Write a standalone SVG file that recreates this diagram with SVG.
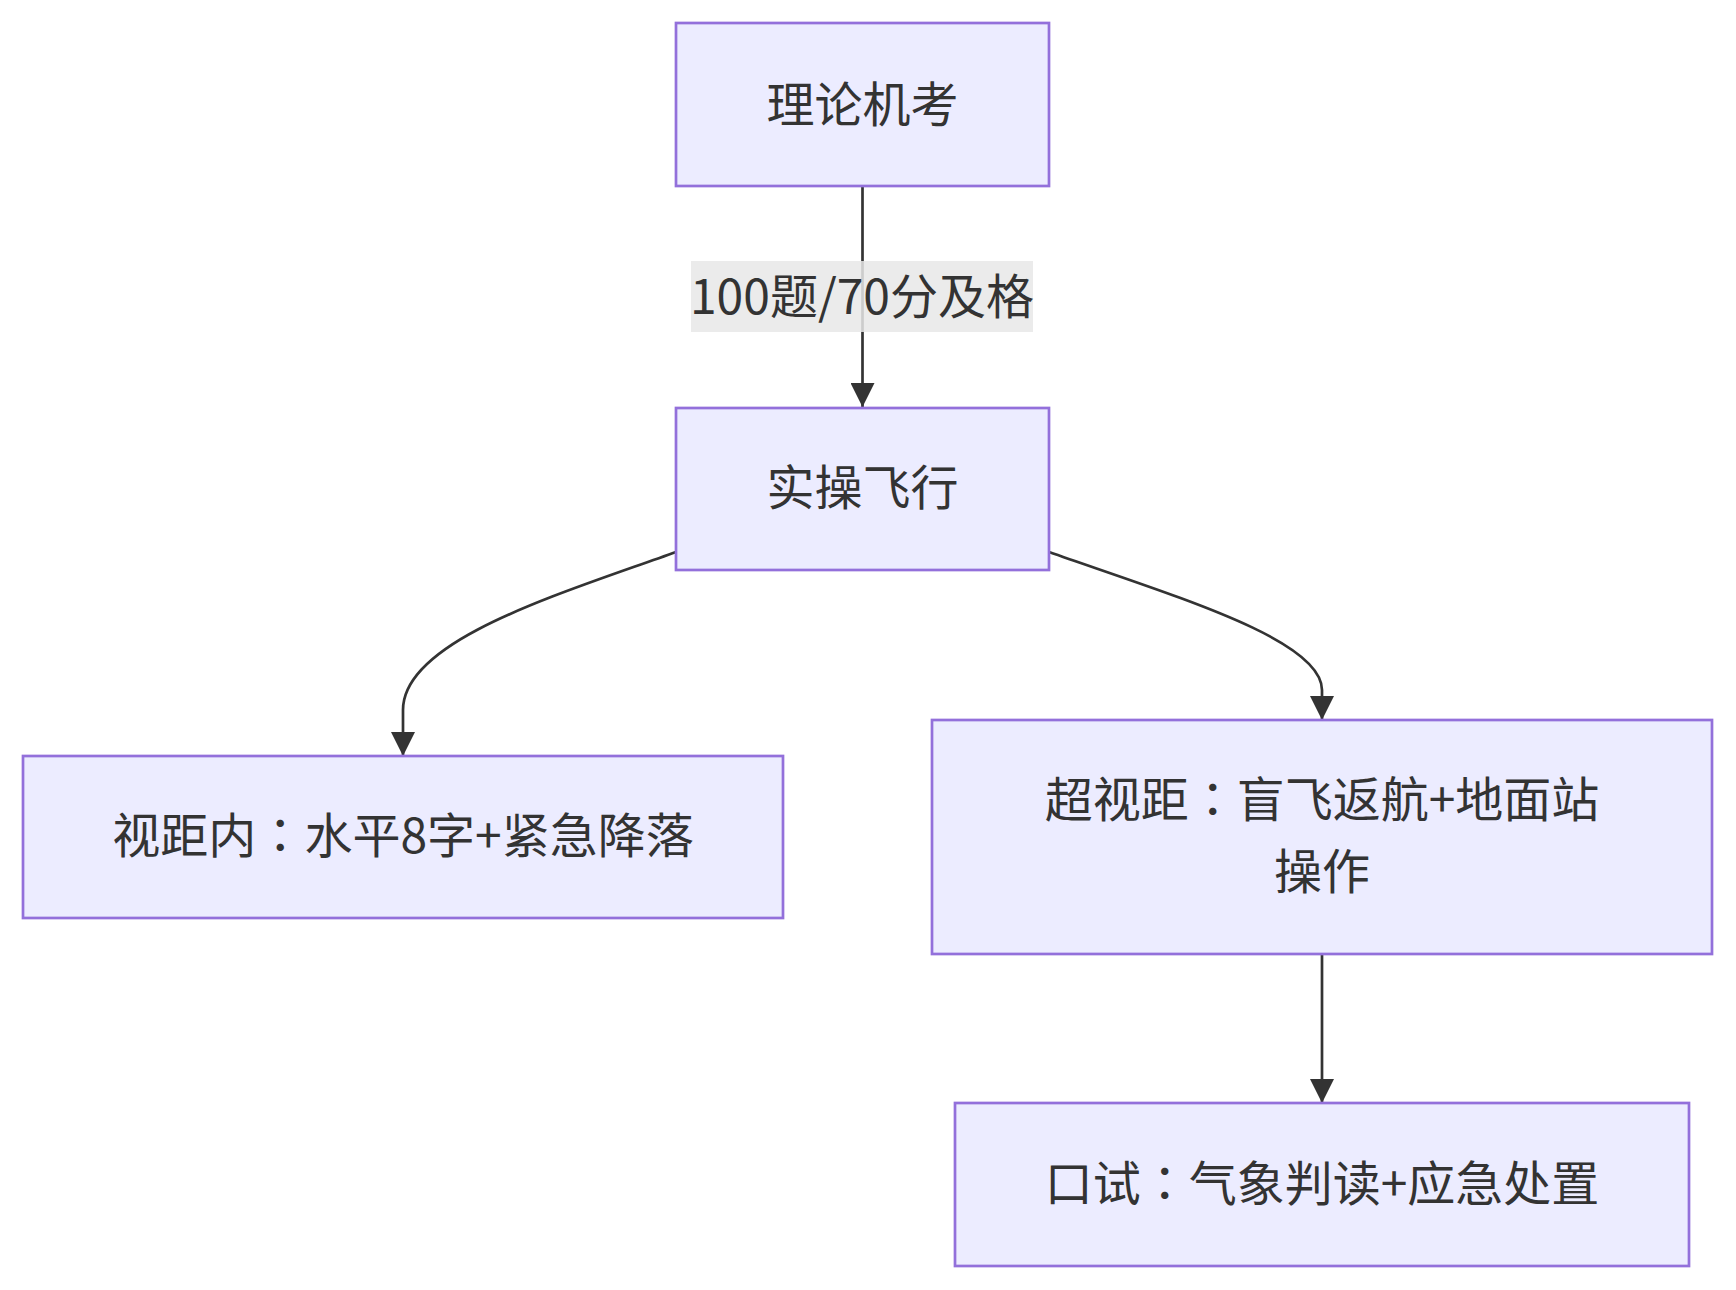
<svg xmlns="http://www.w3.org/2000/svg" width="1736" height="1290" viewBox="0 0 1736 1290">
<defs>
<style>
.node rect{fill:#ECECFF;stroke:#9370DB;stroke-width:2.7;}
.lbl{font-family:"Noto Sans CJK SC","Liberation Sans",sans-serif;font-size:48px;fill:#333;text-anchor:middle;dominant-baseline:central;}
.colon{font-family:"Noto Sans CJK TC","Noto Sans CJK SC",sans-serif;}
.edge{fill:none;stroke:#333;stroke-width:2.7;}
.elbg{fill:#e8e8e8;opacity:0.85;}
</style>
<marker id="arrow" viewBox="0 0 24 24" refX="24" refY="12" markerUnits="userSpaceOnUse" markerWidth="24" markerHeight="24" orient="auto">
<path d="M0,0 L24,12 L0,24 z" fill="#333"/>
</marker>
</defs>
<rect width="1736" height="1290" fill="#fff"/>
<g id="edges">
<path class="edge" d="M862.5,186 L862.5,407" marker-end="url(#arrow)"/>
<path class="edge" d="M676,552 C560,594 403,640 403,710 L403,756" marker-end="url(#arrow)"/>
<path class="edge" d="M1049,552 C1180,598 1322,640 1322,690 L1322,720" marker-end="url(#arrow)"/>
<path class="edge" d="M1322,954 L1322,1103" marker-end="url(#arrow)"/>
</g>
<g id="edge-label">
<rect class="elbg" x="691" y="261" width="342" height="71"/>
<text class="lbl" x="862" y="293">100题/70分及格</text>
</g>
<g id="n1" class="node">
<rect x="676" y="23" width="373" height="163"/>
<text class="lbl" x="862.5" y="101">理论机考</text>
</g>
<g id="n2" class="node">
<rect x="676" y="408" width="373" height="162"/>
<text class="lbl" x="862.5" y="484">实操飞行</text>
</g>
<g id="n3" class="node">
<rect x="23" y="756" width="760" height="162"/>
<text class="lbl" x="403" y="832">视距内<tspan class="colon">：</tspan>水平8字+紧急降落</text>
</g>
<g id="n4" class="node">
<rect x="932" y="720" width="780" height="234"/>
<text class="lbl" x="1322" y="796">超视距<tspan class="colon">：</tspan>盲飞返航+地面站</text>
<text class="lbl" x="1322" y="868">操作</text>
</g>
<g id="n5" class="node">
<rect x="955" y="1103" width="734" height="163"/>
<text class="lbl" x="1322" y="1180">口试<tspan class="colon">：</tspan>气象判读+应急处置</text>
</g>
</svg>
